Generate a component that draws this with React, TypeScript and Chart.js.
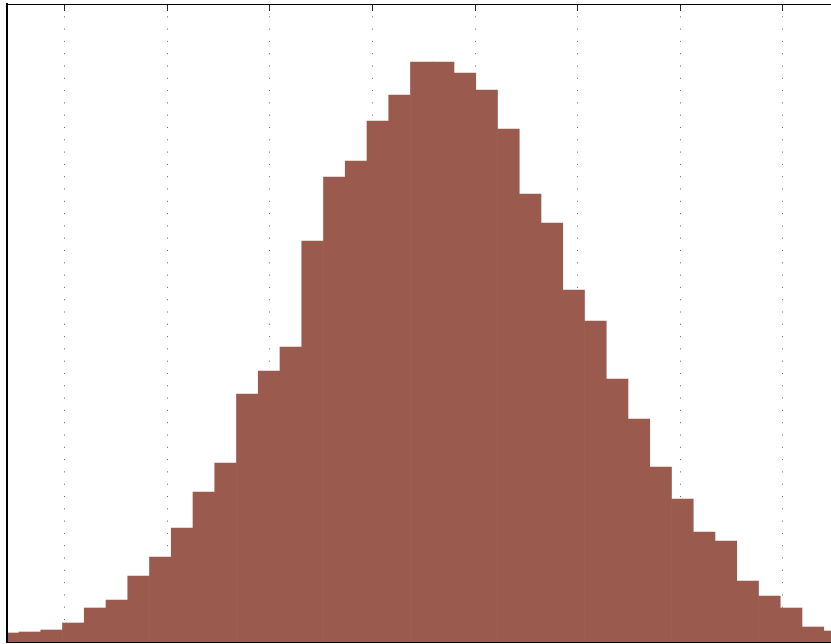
import { useEffect, useRef } from "react";
import { Chart, registerables } from "chart.js";

Chart.register(...registerables);

// Histogram bin centres (x units; dotted grid lines sit at whole numbers)
const binCenters = [
  -3.5526, -3.3405, -3.1285, -2.9164, -2.7044, -2.4923, -2.2803, -2.0682,
  -1.8562, -1.6441, -1.4321, -1.22, -1.008, -0.7959, -0.5839, -0.3718,
  -0.1598, 0.0523, 0.2643, 0.4764, 0.6884, 0.9005, 1.1125, 1.3246,
  1.5366, 1.7487, 1.9607, 2.1728, 2.3848, 2.5969, 2.8089, 3.021,
  3.233, 3.4451, 3.6571, 3.8692, 4.0812, 4.2933, 4.5053,
];

// Bin counts
const counts = [
  9, 10, 12, 19, 34, 42, 66, 85, 114, 150, 179, 248, 271, 295, 401, 465,
  481, 521, 547, 580, 580, 569, 552, 513, 448, 419, 352, 321, 263, 223,
  175, 143, 110, 101, 61, 46, 34, 15, 11,
];

const xMin = -3.5635;
const xMax = 5.1428;
const yMax = 638;
const gridStep = 1;

const topTicks = {
  id: "topTicks",
  afterDatasetsDraw(chart: any) {
    const { ctx, chartArea, scales } = chart;
    const xs = scales.x;
    ctx.save();
    ctx.strokeStyle = "#222";
    ctx.lineWidth = 1;
    for (const t of xs.ticks) {
      const px = xs.getPixelForValue(t.value);
      if (px < chartArea.left + 1 || px > chartArea.right) continue;
      const ax = Math.round(px - 0.5) + 0.5;
      ctx.beginPath();
      ctx.moveTo(ax, chartArea.top);
      ctx.lineTo(ax, chartArea.top + 7);
      ctx.stroke();
    }
    ctx.restore();
  },
};

export default function App() {
  const ref = useRef<HTMLCanvasElement>(null);

  useEffect(() => {
    const chart = new Chart(ref.current as HTMLCanvasElement, {
      type: "bar",
      data: {
        datasets: [
          {
            data: binCenters.map((x, i) => ({ x, y: counts[i] })),
            backgroundColor: "#9a5b4e",
            borderWidth: 0,
            barPercentage: 1,
            categoryPercentage: 1,
            clip: 0,
          } as any,
        ],
      },
      options: {
        animation: false,
        responsive: true,
        maintainAspectRatio: false,
        layout: { padding: { left: 7, top: 4, right: 0, bottom: 2 } },
        plugins: {
          legend: { display: false },
          tooltip: { enabled: false },
        },
        scales: {
          x: {
            type: "linear",
            position: "bottom",
            min: xMin,
            max: xMax,
            offset: false,
            ticks: { display: false, stepSize: gridStep, includeBounds: false },
            grid: {
              display: true,
              offset: false,
              drawTicks: false,
              drawOnChartArea: true,
              color: "#6a6a6a",
              lineWidth: 1,
            },
            border: { display: true, color: "#000", width: 1, dash: [1, 11.3], z: 1 },
          },
          x2: {
            type: "linear",
            position: "top",
            min: xMin,
            max: xMax,
            offset: false,
            ticks: { display: false },
            grid: { display: false, drawTicks: false, offset: false },
            border: { display: true, color: "#000", width: 1, z: 1 },
          },
          y: {
            type: "linear",
            position: "left",
            min: 0,
            max: yMax,
            ticks: { display: false },
            grid: { display: false, drawTicks: false },
            border: { display: true, color: "#000", width: 2, z: 1 },
          },
        },
      } as any,
      plugins: [topTicks],
    });
    return () => chart.destroy();
  }, []);

  return (
    <div
      style={{
        position: "fixed",
        left: 0,
        top: 0,
        width: 831,
        height: 644,
        overflow: "hidden",
        background: "#fff",
      }}
    >
      <div style={{ position: "relative", width: 900, height: 644 }}>
        <canvas ref={ref} />
      </div>
    </div>
  );
}
